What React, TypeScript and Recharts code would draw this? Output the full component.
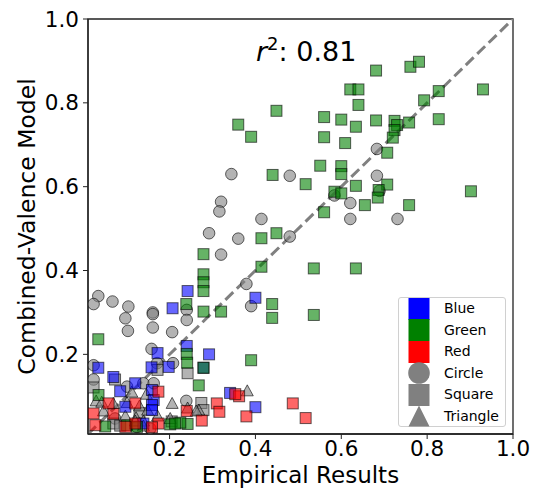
import React from 'react';
import { ScatterChart, Scatter, XAxis, YAxis, ReferenceLine, ReferenceArea, Legend } from 'recharts';

const FONT = '"DejaVu Sans", sans-serif';

type P = [number, number];

const xTicks = [0.2, 0.4, 0.6, 0.8, 1.0];
const yTicks = [0.2, 0.4, 0.6, 0.8, 1.0];
const axisMin = 0.01;
const axisMax = 1.0;
const r2Label = '0.81';

const grayCircles: P[] = [
  [0.344, 0.630], [0.480, 0.626], [0.683, 0.690], [0.683, 0.626], [0.320, 0.564], [0.316, 0.541],
  [0.414, 0.523], [0.621, 0.561], [0.621, 0.523], [0.731, 0.523], [0.584, 0.579], [0.689, 0.590],
  [0.292, 0.489], [0.360, 0.476], [0.480, 0.481], [0.320, 0.438], [0.379, 0.368], [0.390, 0.315],
  [0.240, 0.306], [0.240, 0.282], [0.034, 0.339], [0.023, 0.320], [0.067, 0.326], [0.104, 0.314],
  [0.097, 0.286], [0.103, 0.256], [0.161, 0.300], [0.161, 0.296], [0.161, 0.264], [0.206, 0.253],
  [0.158, 0.213], [0.171, 0.179], [0.208, 0.179], [0.023, 0.174], [0.023, 0.140], [0.239, 0.089],
  [0.101, 0.123], [0.139, 0.131], [0.163, 0.131], [0.073, 0.047], [0.124, 0.027], [0.155, 0.023],
];

const graySquares: P[] = [
  [0.242, 0.155], [0.172, 0.163], [0.023, 0.121], [0.073, 0.140], [0.274, 0.084], [0.279, 0.067],
  [0.069, 0.035], [0.130, 0.060], [0.205, 0.040], [0.085, 0.030],
];

const grayTriangles: P[] = [
  [0.381, 0.111], [0.242, 0.070], [0.268, 0.065], [0.029, 0.087], [0.042, 0.084], [0.101, 0.083],
  [0.130, 0.075], [0.146, 0.103], [0.149, 0.065], [0.046, 0.063], [0.097, 0.051], [0.122, 0.047],
  [0.172, 0.051], [0.206, 0.081], [0.2015, 0.045], [0.262, 0.063], [0.112, 0.108], [0.069, 0.081],
  [0.139, 0.039], [0.120, 0.039], [0.139, 0.027],
];

const blueSquares: P[] = [
  [0.242, 0.351], [0.207, 0.310], [0.400, 0.335], [0.240, 0.220], [0.292, 0.200], [0.172, 0.203],
  [0.158, 0.169], [0.198, 0.170], [0.034, 0.168], [0.069, 0.146], [0.341, 0.108], [0.400, 0.074],
  [0.120, 0.131], [0.159, 0.115], [0.085, 0.112], [0.097, 0.075], [0.163, 0.091], [0.159, 0.079],
  [0.279, 0.168], [0.139, 0.035], [0.159, 0.067],
];

const greenSquares: P[] = [
  [0.681, 0.877], [0.761, 0.886], [0.781, 0.898], [0.621, 0.832], [0.640, 0.832], [0.827, 0.828],
  [0.930, 0.832], [0.640, 0.795], [0.793, 0.806], [0.449, 0.781], [0.360, 0.748], [0.390, 0.719],
  [0.560, 0.766], [0.600, 0.760], [0.634, 0.743], [0.681, 0.758], [0.724, 0.757], [0.730, 0.747],
  [0.758, 0.753], [0.827, 0.761], [0.724, 0.735], [0.720, 0.717], [0.560, 0.718], [0.609, 0.704],
  [0.707, 0.681], [0.551, 0.650], [0.600, 0.649], [0.600, 0.630], [0.440, 0.628], [0.517, 0.606],
  [0.634, 0.602], [0.707, 0.605], [0.584, 0.588], [0.600, 0.584], [0.687, 0.592], [0.685, 0.574],
  [0.902, 0.589], [0.655, 0.556], [0.758, 0.556], [0.560, 0.539], [0.449, 0.489], [0.414, 0.477],
  [0.634, 0.405], [0.279, 0.439], [0.414, 0.409], [0.536, 0.405], [0.279, 0.391], [0.279, 0.372],
  [0.279, 0.351], [0.239, 0.320], [0.279, 0.302], [0.320, 0.302], [0.439, 0.320], [0.439, 0.287],
  [0.536, 0.294], [0.240, 0.201], [0.390, 0.186], [0.034, 0.236], [0.241, 0.180], [0.268, 0.126],
  [0.242, 0.034], [0.225, 0.037], [0.2015, 0.033], [0.213, 0.035], [0.050, 0.028], [0.101, 0.031],
  [0.124, 0.027], [0.0345, 0.103], [0.279, 0.168],
];

const redSquares: P[] = [
  [0.362, 0.100], [0.353, 0.105], [0.310, 0.083], [0.316, 0.063], [0.275, 0.042], [0.379, 0.052],
  [0.487, 0.083], [0.517, 0.048], [0.240, 0.065], [0.174, 0.111], [0.120, 0.083], [0.023, 0.059],
  [0.069, 0.058], [0.027, 0.031], [0.120, 0.035], [0.174, 0.035], [0.097, 0.027], [0.058, 0.083],
  [0.159, 0.026],
];

const diagonal = [{ x: axisMin, y: axisMin }, { x: axisMax, y: axisMax }];

const toPts = (a: P[]) => a.map(([x, y]) => ({ x, y }));

const ALPHA = 0.6;

const squareShape = (color: string) => (props: any) => {
  const { cx, cy } = props;
  const s = 11;
  return (
    <rect x={cx - s / 2} y={cy - s / 2} width={s} height={s} fill={color} fillOpacity={ALPHA}
      stroke="#000" strokeOpacity={ALPHA} strokeWidth={1} />
  );
};

const circleShape = (color: string) => (props: any) => {
  const { cx, cy } = props;
  return (
    <circle cx={cx} cy={cy} r={5.8} fill={color} fillOpacity={ALPHA}
      stroke="#000" strokeOpacity={ALPHA} strokeWidth={1} />
  );
};

const triangleShape = (color: string) => (props: any) => {
  const { cx, cy } = props;
  const h = 11;
  const w = 12;
  const pts = `${cx},${cy - h * 0.62} ${cx - w / 2},${cy + h * 0.38} ${cx + w / 2},${cy + h * 0.38}`;
  return (
    <polygon points={pts} fill={color} fillOpacity={ALPHA}
      stroke="#000" strokeOpacity={ALPHA} strokeWidth={1} />
  );
};

const legendItems = [
  { label: 'Blue', kind: 'square', color: '#0000ff' },
  { label: 'Green', kind: 'square', color: '#008000' },
  { label: 'Red', kind: 'square', color: '#ff0000' },
  { label: 'Circle', kind: 'circle', color: '#808080' },
  { label: 'Square', kind: 'square', color: '#808080' },
  { label: 'Triangle', kind: 'triangle', color: '#808080' },
];

const LegendMarker = ({ kind, color }: { kind: string; color: string }) => (
  <svg width={22} height={22} style={{ display: 'block' }}>
    {kind === 'square' && <rect x={0.5} y={0} width={21} height={22} fill={color} />}
    {kind === 'circle' && <circle cx={11} cy={11} r={10.8} fill={color} />}
    {kind === 'triangle' && <polygon points="11,0.5 0.5,21.5 21.5,21.5" fill={color} />}
  </svg>
);

const renderLegend = () => (
  <div
    style={{
      width: 108,
      height: 130,
      boxSizing: 'border-box',
      border: '1px solid #d0d0d0',
      borderRadius: 3,
      background: 'rgba(255,255,255,0.85)',
      fontFamily: FONT,
      fontSize: 14,
      color: '#000',
    }}
  >
    {legendItems.map((it) => (
      <div key={it.label} style={{ display: 'flex', alignItems: 'center', height: 21.5 }}>
        <div style={{ marginLeft: 9, width: 22 }}>
          <LegendMarker kind={it.kind} color={it.color} />
        </div>
        <span style={{ marginLeft: 14, lineHeight: '21.5px' }}>{it.label}</span>
      </div>
    ))}
  </div>
);

const XLabel = (props: any) => {
  const vb = props.viewBox || { x: 88, y: 434, width: 425 };
  return (
    <text x={vb.x + vb.width / 2} y={vb.y + 49} textAnchor="middle" fontFamily={FONT} fontSize={23} fill="#000">
      Empirical Results
    </text>
  );
};

const YLabel = (props: any) => {
  const vb = props.viewBox || { x: 0, y: 19, height: 415 };
  const cx = 35;
  const cy = vb.y + vb.height / 2;
  return (
    <text x={cx} y={cy} textAnchor="middle" fontFamily={FONT} fontSize={23.5} fill="#000"
      transform={`rotate(-90, ${cx}, ${cy})`}>
      Combined-Valence Model
    </text>
  );
};

export default function App() {
  const tickStyle = { fontFamily: FONT, fontSize: 21.5, fill: '#000' };
  return (
    <div style={{ position: 'absolute', left: 0, top: 0, width: 535, height: 493, background: '#fff' }}>
      <ScatterChart width={535} height={493} margin={{ top: 19, right: 22, bottom: 0, left: 0 }}>
        <XAxis
          type="number"
          dataKey="x"
          domain={[axisMin, axisMax]}
          ticks={xTicks}
          allowDataOverflow
          height={59}
          tick={tickStyle}
          tickFormatter={(v: number) => v.toFixed(1)}
          tickSize={5}
          tickMargin={2}
          axisLine={{ stroke: '#222', strokeWidth: 1.3 }}
          tickLine={{ stroke: '#222', strokeWidth: 1 }}
          label={<XLabel />}
        />
        <YAxis
          type="number"
          dataKey="y"
          domain={[axisMin, axisMax]}
          ticks={yTicks}
          allowDataOverflow
          width={88}
          tick={tickStyle}
          tickFormatter={(v: number) => v.toFixed(1)}
          tickSize={5}
          tickMargin={4}
          axisLine={{ stroke: '#222', strokeWidth: 1.3 }}
          tickLine={{ stroke: '#222', strokeWidth: 1 }}
          label={<YLabel />}
        />
        <ReferenceArea x1={axisMin} x2={axisMax} y1={axisMin} y2={axisMax} fill="none" fillOpacity={0}
          stroke="#222" strokeWidth={1.3} />
        <Scatter data={toPts(grayCircles)} shape={circleShape('#808080')} isAnimationActive={false} />
        <Scatter data={toPts(graySquares)} shape={squareShape('#808080')} isAnimationActive={false} />
        <Scatter data={toPts(grayTriangles)} shape={triangleShape('#808080')} isAnimationActive={false} />
        <Scatter data={toPts(blueSquares)} shape={squareShape('#0000ff')} isAnimationActive={false} />
        <Scatter data={toPts(greenSquares)} shape={squareShape('#008000')} isAnimationActive={false} />
        <Scatter data={toPts(redSquares)} shape={squareShape('#ff0000')} isAnimationActive={false} />
        <ReferenceLine segment={diagonal} stroke="#808080" strokeWidth={3} strokeDasharray="11 5" ifOverflow="hidden" />
        <Legend
          layout="vertical"
          align="center"
          verticalAlign="middle"
          content={renderLegend}
          wrapperStyle={{ position: 'absolute', left: 398, top: 297, width: 108, height: 130 }}
        />
      </ScatterChart>
      <svg width={535} height={493} style={{ position: 'absolute', left: 0, top: 0, pointerEvents: 'none' }}>
        <text x={256} y={61} fontFamily={FONT} fontSize={27} fill="#000">
          <tspan fontStyle="italic">r</tspan>
          <tspan dy={-11} fontSize={18}>2</tspan>
          <tspan dy={11}>{': ' + r2Label}</tspan>
        </text>
      </svg>
    </div>
  );
}
